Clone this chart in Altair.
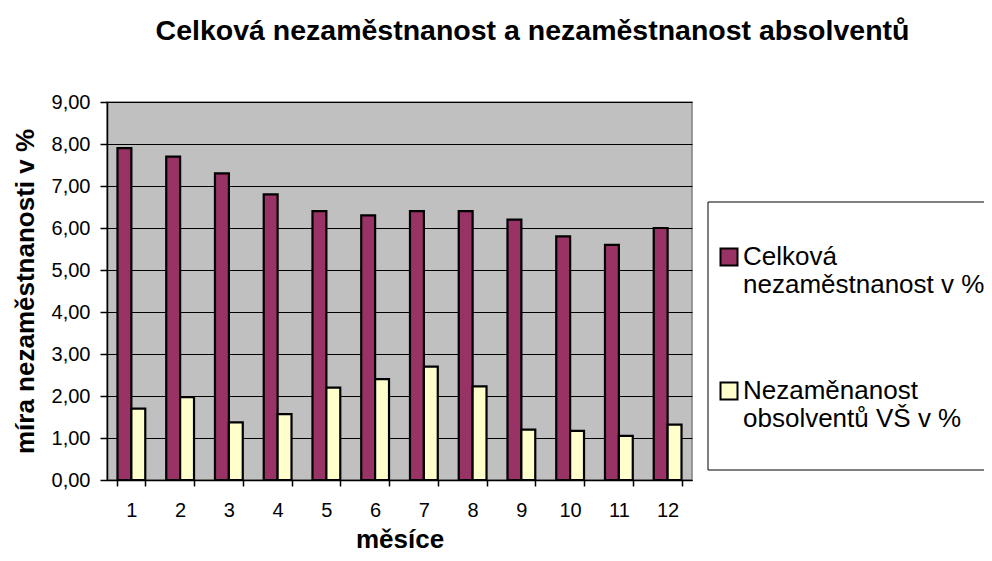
import altair as alt
import pandas as pd

# ---- data ----
months = [str(i) for i in range(1, 13)]
series = ["Celková nezaměstnanost v %", "Nezaměnanost obsolventů VŠ v %"]
celkova = [7.9, 7.7, 7.3, 6.8, 6.4, 6.3, 6.4, 6.4, 6.2, 5.8, 5.6, 6.0]
absolventi = [1.7, 1.97, 1.37, 1.57, 2.2, 2.4, 2.7, 2.23, 1.2, 1.17, 1.05, 1.32]
y_ticks = [0, 1, 2, 3, 4, 5, 6, 7, 8, 9]
colors = ["#993366", "#FFFFCC"]

title_text = "Celková nezaměstnanost a nezaměstnanost absolventů"
x_title = "měsíce"
y_title = "míra nezaměstnanosti v %"

df = pd.DataFrame({
    "mesic": months * 2,
    "serie": [series[0]] * len(months) + [series[1]] * len(months),
    "hodnota": celkova + absolventi,
})

FONT = "Liberation Sans"

bars = alt.Chart(df).mark_bar(stroke="black", strokeWidth=2.2).encode(
    x=alt.X(
        "mesic:O",
        sort=months,
        scale=alt.Scale(paddingInner=0.43, paddingOuter=0.215),
        axis=alt.Axis(
            title=x_title, labelAngle=0, tickBand="extent", grid=False,
            tickSize=6, labelPadding=14, titlePadding=6,
            labelFontSize=20, titleFontSize=26,
        ),
    ),
    xOffset=alt.XOffset("serie:N", sort=series, scale=alt.Scale(paddingInner=0, paddingOuter=0)),
    y=alt.Y(
        "hodnota:Q",
        scale=alt.Scale(domain=[0, 9], nice=False),
        axis=alt.Axis(
            title=y_title, values=y_ticks,
            labelExpr="replace(format(datum.value, '.2f'), '.', ',')",
            tickSize=7, labelPadding=10, titlePadding=13,
            labelFontSize=20, titleFontSize=26,
            grid=True, gridColor="black", gridWidth=1, gridOpacity=1,
        ),
    ),
    color=alt.Color(
        "serie:N",
        sort=series,
        scale=alt.Scale(domain=series, range=colors),
        legend=alt.Legend(
            title=None, orient="none", legendX=609, legendY=142,
            symbolType="square", symbolSize=289,
            symbolStrokeColor="black", symbolStrokeWidth=2, symbolOpacity=1,
            labelFont=FONT, labelFontSize=26, labelColor="black",
            labelLimit=400, labelOffset=1, labelBaseline="middle",
            rowPadding=80, padding=0,
            labelExpr="[substring(datum.label, 0, indexof(datum.label, ' ')), substring(datum.label, indexof(datum.label, ' ') + 1)]",
        ),
    ),
)

box = alt.Chart(pd.DataFrame({"k": [0]})).mark_rect(
    fill="white", stroke="black", strokeWidth=1
).encode(
    x=alt.value(601), x2=alt.value(1000), y=alt.value(100), y2=alt.value(368)
)

chart = alt.layer(box, bars).properties(
    width=585,
    height=378,
    autosize=alt.AutoSizeParams(type="none"),
    padding={"left": 99, "top": 94, "right": 292, "bottom": 73},
    title=alt.TitleParams(
        text=title_text, font=FONT, fontSize=28.5, fontWeight="bold", color="black",
        anchor="middle", frame="group", dx=133, offset=24, baseline="alphabetic",
    ),
).configure_view(
    fill="#C0C0C0", stroke="#808080", strokeWidth=1.5
).configure_axis(
    labelFont=FONT, titleFont=FONT, labelColor="black", titleColor="black",
    titleFontWeight="bold", domainColor="black", tickColor="black",
    domainWidth=1.5, tickWidth=1.5,
)

chart.save("out.html", embed_options={"renderer": "svg", "actions": False})
